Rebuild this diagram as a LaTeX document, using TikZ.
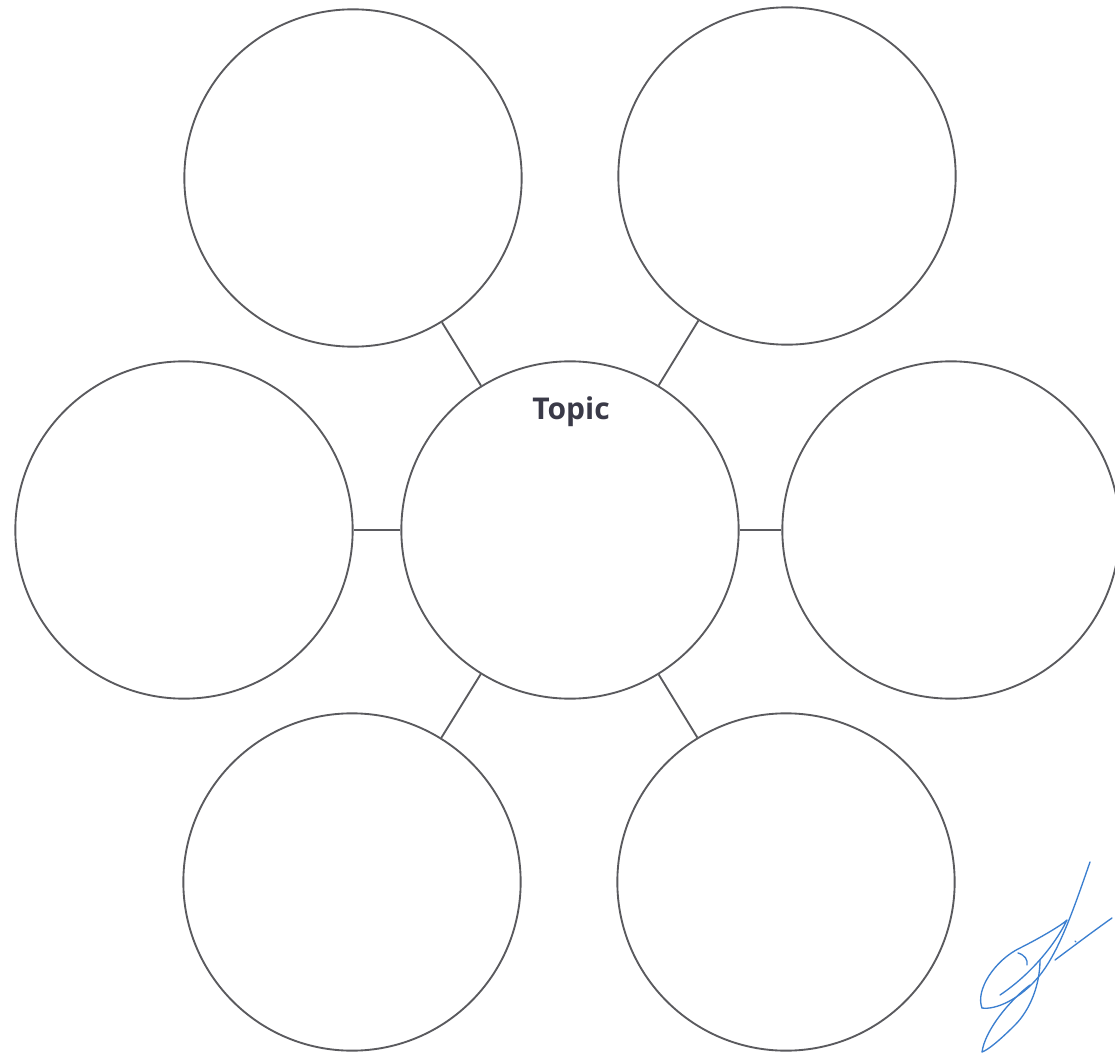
\documentclass[tikz,border=0pt]{standalone}
\usepackage{fontspec}
\newfontfamily\topicfont{Open Sans}
\definecolor{ringgray}{HTML}{5A5A5E}
\definecolor{textgray}{HTML}{3A3A48}
\definecolor{inkblue}{HTML}{3B7FD0}
\begin{document}
\begin{tikzpicture}[x=0.75pt,y=-0.75pt,
  bubble/.style={circle,draw=ringgray,line width=1.4pt,minimum size=253pt,inner sep=0pt},
  link/.style={draw=ringgray,line width=1.4pt},
  ink/.style={draw=inkblue,line width=1pt,line cap=round,line join=round}]
\useasboundingbox[fill=white] (0,0) rectangle (1115,1056);
\node[bubble] (c)  at (570,530) {};
\node[bubble] (tl) at (353,178) {};
\node[bubble] (tr) at (787,176) {};
\node[bubble] (ml) at (184,530) {};
\node[bubble] (mr) at (951,530) {};
\node[bubble] (bl) at (352,882) {};
\node[bubble] (br) at (786,882) {};
\node[text=textgray,font=\topicfont\bfseries\fontsize{22.5}{26}\selectfont] (topic) at (571,412) {Topic};
\path[link] (c) -- (tl);
\path[link] (c) -- (tr);
\path[link] (c) -- (ml);
\path[link] (c) -- (mr);
\path[link] (c) -- (bl);
\path[link] (c) -- (br);
% signature
\path[ink] (1090,862) .. controls (1075,905) and (1060,950) .. (1040,975)
  .. controls (1020,1000) and (995,1010) .. (982,1008);
\path[ink] (982,1008) .. controls (975,990) and (995,960) .. (1020,948)
  .. controls (1040,938) and (1062,925) .. (1067,920)
  .. controls (1055,945) and (1030,975) .. (1000,995);
\path[ink] (1018,953) .. controls (1025,955) and (1028,960) .. (1027,965);
\path[ink] (1040,960) .. controls (1040,985) and (1030,1010) .. (1015,1025)
  .. controls (1000,1040) and (988,1050) .. (982,1052)
  .. controls (985,1030) and (1010,1000) .. (1030,985);
\path[ink] (1055,960) .. controls (1075,945) and (1095,930) .. (1112,918);
\path[ink] (1075,941) -- (1076,942);
\end{tikzpicture}
\end{document}
